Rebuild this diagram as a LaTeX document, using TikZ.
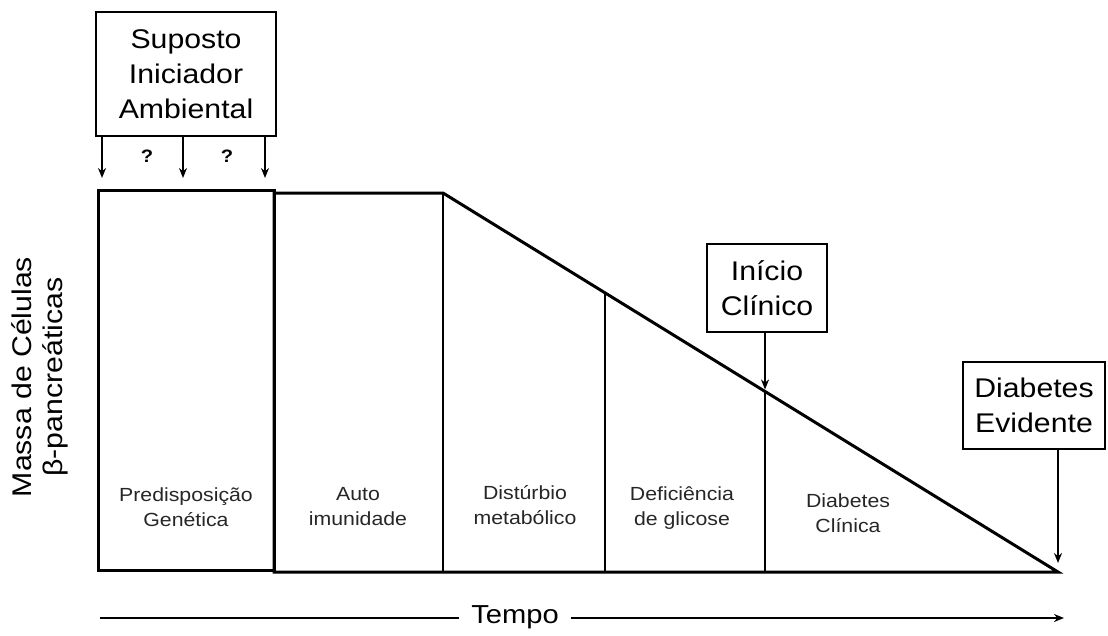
\documentclass[tikz,border=0pt]{standalone}
\usepackage{fontspec}
\setmainfont{Liberation Sans}[FakeStretch=1.12]
\usetikzlibrary{calc,arrows.meta,positioning}
\tikzset{
  evbox/.style={rectangle, draw=black, line width=2.8pt, fill=white, align=center,
                inner sep=0pt, font=\fontsize{27}{35}\selectfont},
  massline/.style={line width=3pt, black, line join=miter},
  divider/.style={line width=2.8pt, black},
  evarrow/.style={-{Stealth[length=10pt, width=8pt]}, line width=2.2pt, black},
  timearrow/.style={-{Stealth[length=10pt, width=8pt]}, line width=2.4pt, black},
  stagelbl/.style={align=center, inner sep=0pt, text=black!85,
                   font=\fontsize{19}{25}\selectfont},
  qmark/.style={inner sep=0pt, font=\fontsize{18}{20}\selectfont\bfseries},
}
\begin{document}
\begin{tikzpicture}[x=1pt, y=-1pt]
  \useasboundingbox (0,0) rectangle (1108,635);
  % curve of beta-cell mass
  \coordinate (r0) at (98,190);  \coordinate (r1) at (274,570);
  \coordinate (t0) at (274,193); \coordinate (t1) at (443,193);
  \coordinate (fim) at (1058,572); \coordinate (b0) at (274,572);
  \coordinate (d1) at ($(t1)!0.2634!(fim)$);
  \coordinate (d2) at ($(t1)!0.5236!(fim)$);
  \draw[massline] (r0) rectangle (r1);
  \draw[massline] (t0) -- (t1) -- (fim) -- (b0) -- cycle;
  \foreach \p in {t1,d1,d2} {\draw[divider] (\p) -- (\p |- b0);}
  % stage labels
  \node[stagelbl] (predis) at (186,507) {Predisposição\\Genética};
  \node[stagelbl] (autoim) at (358,507) {Auto\\imunidade};
  \node[stagelbl] (distur) at (525,505) {Distúrbio\\metabólico};
  \node[stagelbl] (defic)  at (682,508) {Deficiência\\de glicose};
  \node[stagelbl] (diacli) at (848,513) {Diabetes\\Clínica};
  % environmental trigger
  \node[evbox, minimum width=180pt, minimum height=124pt] (inic) at (186,74)
    {Suposto\\Iniciador\\Ambiental};
  \foreach \x/\n in {102/a,183/b,265/c} {\coordinate (h\n) at (\x,178);}
  \foreach \n in {a,b,c} {\draw[evarrow] (inic.south -| h\n) -- (h\n);}
  \node[qmark] (q1) at (147,156) {?};
  \node[qmark] (q2) at (227,156) {?};
  % clinical onset and overt diabetes
  \node[evbox, minimum width=120pt, minimum height=88pt] (clin) at (767,288)
    {Início\\Clínico};
  \draw[evarrow, shorten >=2pt] (clin.south -| d2) -- (d2);
  \node[evbox, minimum width=142pt, minimum height=87pt] (evid) at (1034,405.5)
    {Diabetes\\Evidente};
  \draw[evarrow, shorten >=9pt] (evid.south -| fim) -- (fim);
  % axes
  \node[rotate=90, align=center, inner sep=0pt,
        font=\fontsize{27}{31}\selectfont] (yaxis) at (40,377)
    {Massa de Células\\β-pancreáticas};
  \coordinate (tL) at (100,618); \coordinate (tR) at (1064,618);
  \node[inner xsep=12pt, inner ysep=0pt, font=\fontsize{26}{30}\selectfont]
    (tempo) at (515,617) {Tempo};
  \draw[line width=2.4pt] (tL) -- (tempo.west |- tL);
  \draw[timearrow] (tempo.east |- tR) -- (tR);
\end{tikzpicture}
\end{document}
